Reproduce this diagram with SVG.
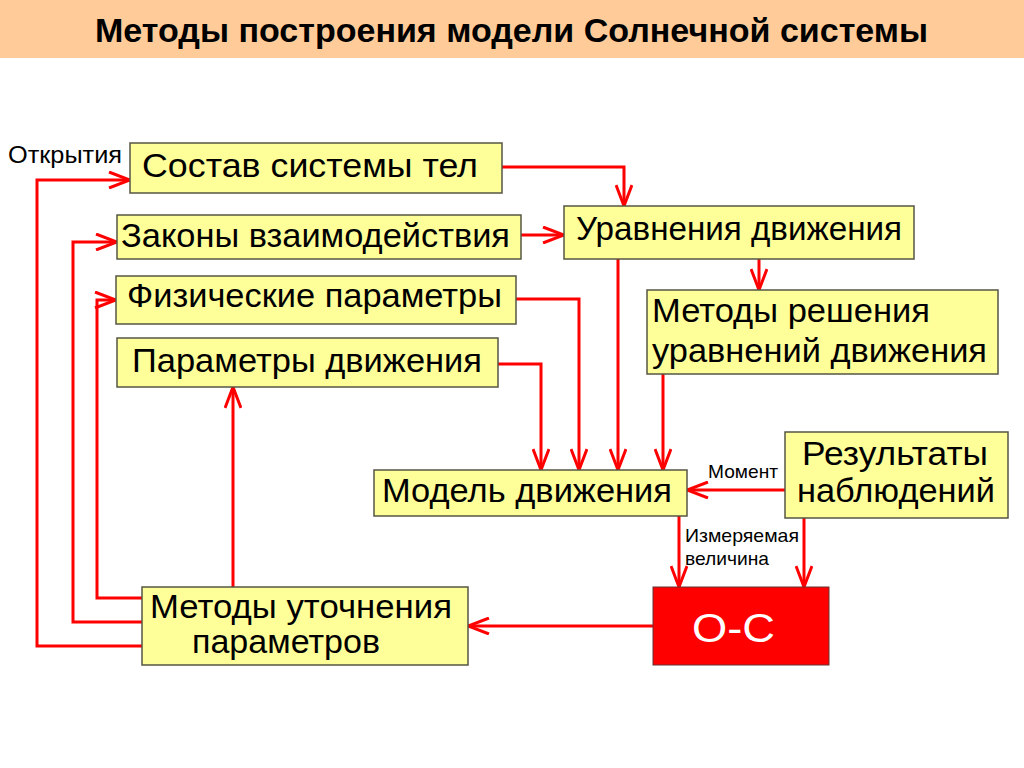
<svg xmlns="http://www.w3.org/2000/svg" width="1024" height="768" viewBox="0 0 1024 768">
<style>
.box{fill:#ffff99;stroke:#555544;stroke-width:1.5}
.oc{fill:#ff0000;stroke:#663333;stroke-width:1}
.t{font-family:"Liberation Sans",Arial,sans-serif;font-size:33px;fill:#000}
.s{font-family:"Liberation Sans",Arial,sans-serif;font-size:19px;fill:#000}
.c{fill:none;stroke:#ff0000;stroke-width:3;marker-end:url(#ah)}
</style>
<defs>
<marker id="ah" markerUnits="userSpaceOnUse" viewBox="0 0 24 18" refX="22" refY="9" markerWidth="24" markerHeight="18" orient="auto">
<path d="M1,1 L22,9 L1,17" fill="none" stroke="#ff0000" stroke-width="3"/>
</marker>
</defs>
<rect width="1024" height="768" fill="#ffffff"/>
<g id="title">
<rect x="0" y="0" width="1024" height="58" fill="#ffcc99"/>
<text x="95" y="42" font-family="'Liberation Sans',Arial,sans-serif" font-weight="bold" font-size="34" textLength="833" lengthAdjust="spacingAndGlyphs">Методы построения модели Солнечной системы</text>
</g>
<g id="connectors">
<path class="c" d="M501,167 H624 V206"/>
<path class="c" d="M521,235 H564"/>
<path class="c" d="M759,259 V290"/>
<path class="c" d="M618,259 V470"/>
<path class="c" d="M516,299 H579 V470"/>
<path class="c" d="M497,364 H541 V470"/>
<path class="c" d="M663,374 V470"/>
<path class="c" d="M785,490 H687"/>
<path class="c" d="M679,516 V587"/>
<path class="c" d="M804,518 V587"/>
<path class="c" d="M653,626 H468"/>
<path class="c" d="M233,587 V387"/>
<path class="c" d="M142,598 H97 V300 H116"/>
<path class="c" d="M142,622 H73 V242 H117"/>
<path class="c" d="M142,646 H37 V180 H130"/>
<text class="s" x="708" y="478" textLength="70" lengthAdjust="spacingAndGlyphs">Момент</text>
<text class="s" x="685" y="542" textLength="114" lengthAdjust="spacingAndGlyphs">Измеряемая</text>
<text class="s" x="685" y="565" textLength="84" lengthAdjust="spacingAndGlyphs">величина</text>
<text x="8" y="163" font-family="'Liberation Sans',Arial,sans-serif" font-size="23" textLength="114" lengthAdjust="spacingAndGlyphs">Открытия</text>
</g>
<g id="sostav">
<rect class="box" x="130" y="143" width="372" height="50"/>
<text class="t" x="142" y="177" textLength="336" lengthAdjust="spacingAndGlyphs">Состав системы тел</text>
</g>
<g id="zakony">
<rect class="box" x="117" y="215" width="404" height="44"/>
<text class="t" x="121" y="247" textLength="389" lengthAdjust="spacingAndGlyphs">Законы взаимодействия</text>
</g>
<g id="fiz">
<rect class="box" x="116" y="276" width="400" height="48"/>
<text class="t" x="127" y="307" textLength="375" lengthAdjust="spacingAndGlyphs">Физические параметры</text>
</g>
<g id="param">
<rect class="box" x="117" y="338" width="381" height="49"/>
<text class="t" x="132" y="372" textLength="350" lengthAdjust="spacingAndGlyphs">Параметры движения</text>
</g>
<g id="uravn">
<rect class="box" x="564" y="206" width="350" height="53"/>
<text class="t" x="576" y="240" textLength="326" lengthAdjust="spacingAndGlyphs">Уравнения движения</text>
</g>
<g id="metody-resh">
<rect class="box" x="647" y="290" width="351" height="84"/>
<text class="t" x="652" y="322" textLength="278" lengthAdjust="spacingAndGlyphs">Методы решения</text>
<text class="t" x="652" y="362" textLength="335" lengthAdjust="spacingAndGlyphs">уравнений движения</text>
</g>
<g id="model">
<rect class="box" x="374" y="470" width="313" height="46"/>
<text class="t" x="382" y="502" textLength="290" lengthAdjust="spacingAndGlyphs">Модель движения</text>
</g>
<g id="rezult">
<rect class="box" x="785" y="432" width="223" height="86"/>
<text class="t" x="802" y="465" textLength="186" lengthAdjust="spacingAndGlyphs">Результаты</text>
<text class="t" x="797" y="502" textLength="198" lengthAdjust="spacingAndGlyphs">наблюдений</text>
</g>
<g id="oc">
<rect class="oc" x="653" y="587" width="176" height="78"/>
<text x="692" y="642" font-family="'Liberation Sans',Arial,sans-serif" font-size="40" fill="#ffffff" textLength="83" lengthAdjust="spacingAndGlyphs">О-С</text>
</g>
<g id="utochn">
<rect class="box" x="142" y="587" width="326" height="78"/>
<text class="t" x="150" y="618" textLength="302" lengthAdjust="spacingAndGlyphs">Методы уточнения</text>
<text class="t" x="192" y="653" textLength="188" lengthAdjust="spacingAndGlyphs">параметров</text>
</g>
</svg>
